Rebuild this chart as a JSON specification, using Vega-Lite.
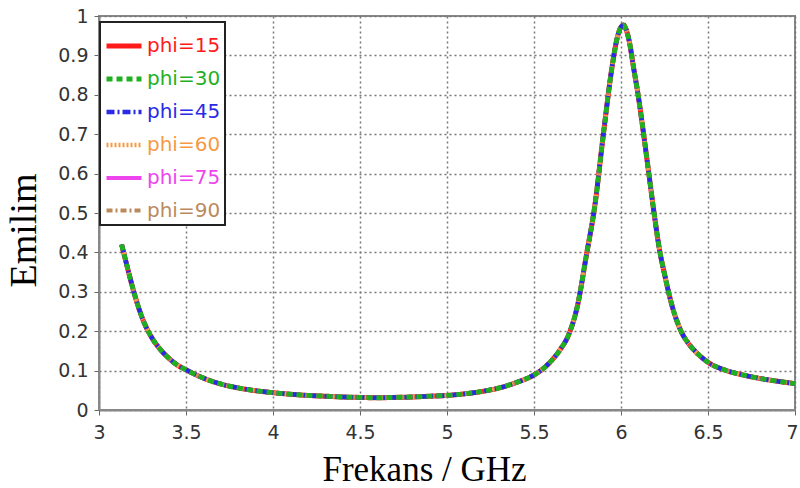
{
  "$schema": "https://vega.github.io/schema/vega-lite/v6.json",
  "autosize": {"type": "none"},
  "padding": {"left": 99, "top": 16, "right": 5, "bottom": 78},
  "width": 696,
  "height": 394,
  "background": "white",
  "config": {
    "view": {"stroke": "#888888", "strokeWidth": 2},
    "axis": {
      "labelFont": "DejaVu Sans",
      "labelFontSize": 19,
      "labelColor": "#333333",
      "domainColor": "#888888",
      "domainWidth": 2,
      "tickColor": "#666666",
      "tickSize": 5,
      "gridColor": "#777777",
      "gridDash": [2, 3],
      "gridWidth": 1.5,
      "titleFont": "Liberation Serif",
      "titleFontWeight": "normal",
      "titleColor": "#000000"
    }
  },
  "data": {
    "values": [
      {"f": 3.13, "p15": 0.42, "p30": 0.42, "p45": 0.42, "p60": 0.42, "p75": 0.42, "p90": 0.42},
      {"f": 3.15, "p15": 0.385, "p30": 0.385, "p45": 0.385, "p60": 0.385, "p75": 0.385, "p90": 0.385},
      {"f": 3.17, "p15": 0.35, "p30": 0.35, "p45": 0.35, "p60": 0.35, "p75": 0.35, "p90": 0.35},
      {"f": 3.2, "p15": 0.3, "p30": 0.3, "p45": 0.3, "p60": 0.3, "p75": 0.3, "p90": 0.3},
      {"f": 3.25, "p15": 0.232, "p30": 0.232, "p45": 0.232, "p60": 0.232, "p75": 0.232, "p90": 0.232},
      {"f": 3.3, "p15": 0.186, "p30": 0.186, "p45": 0.186, "p60": 0.186, "p75": 0.186, "p90": 0.186},
      {"f": 3.35, "p15": 0.155, "p30": 0.155, "p45": 0.155, "p60": 0.155, "p75": 0.155, "p90": 0.155},
      {"f": 3.4, "p15": 0.132, "p30": 0.132, "p45": 0.132, "p60": 0.132, "p75": 0.132, "p90": 0.132},
      {"f": 3.45, "p15": 0.114, "p30": 0.114, "p45": 0.114, "p60": 0.114, "p75": 0.114, "p90": 0.114},
      {"f": 3.5, "p15": 0.102, "p30": 0.102, "p45": 0.102, "p60": 0.102, "p75": 0.102, "p90": 0.102},
      {"f": 3.6, "p15": 0.081, "p30": 0.081, "p45": 0.081, "p60": 0.081, "p75": 0.081, "p90": 0.081},
      {"f": 3.7, "p15": 0.066, "p30": 0.066, "p45": 0.066, "p60": 0.066, "p75": 0.066, "p90": 0.066},
      {"f": 3.8, "p15": 0.056, "p30": 0.056, "p45": 0.056, "p60": 0.056, "p75": 0.056, "p90": 0.056},
      {"f": 3.9, "p15": 0.049, "p30": 0.049, "p45": 0.049, "p60": 0.049, "p75": 0.049, "p90": 0.049},
      {"f": 4.0, "p15": 0.044, "p30": 0.044, "p45": 0.044, "p60": 0.044, "p75": 0.044, "p90": 0.044},
      {"f": 4.1, "p15": 0.04, "p30": 0.04, "p45": 0.04, "p60": 0.04, "p75": 0.04, "p90": 0.04},
      {"f": 4.2, "p15": 0.037, "p30": 0.037, "p45": 0.037, "p60": 0.037, "p75": 0.037, "p90": 0.037},
      {"f": 4.3, "p15": 0.035, "p30": 0.035, "p45": 0.035, "p60": 0.035, "p75": 0.035, "p90": 0.035},
      {"f": 4.4, "p15": 0.033, "p30": 0.033, "p45": 0.033, "p60": 0.033, "p75": 0.033, "p90": 0.033},
      {"f": 4.5, "p15": 0.032, "p30": 0.032, "p45": 0.032, "p60": 0.032, "p75": 0.032, "p90": 0.032},
      {"f": 4.6, "p15": 0.031, "p30": 0.031, "p45": 0.031, "p60": 0.031, "p75": 0.031, "p90": 0.031},
      {"f": 4.7, "p15": 0.032, "p30": 0.032, "p45": 0.032, "p60": 0.032, "p75": 0.032, "p90": 0.032},
      {"f": 4.8, "p15": 0.033, "p30": 0.033, "p45": 0.033, "p60": 0.033, "p75": 0.033, "p90": 0.033},
      {"f": 4.9, "p15": 0.035, "p30": 0.035, "p45": 0.035, "p60": 0.035, "p75": 0.035, "p90": 0.035},
      {"f": 5.0, "p15": 0.037, "p30": 0.037, "p45": 0.037, "p60": 0.037, "p75": 0.037, "p90": 0.037},
      {"f": 5.1, "p15": 0.041, "p30": 0.041, "p45": 0.041, "p60": 0.041, "p75": 0.041, "p90": 0.041},
      {"f": 5.2, "p15": 0.047, "p30": 0.047, "p45": 0.047, "p60": 0.047, "p75": 0.047, "p90": 0.047},
      {"f": 5.3, "p15": 0.056, "p30": 0.056, "p45": 0.056, "p60": 0.056, "p75": 0.056, "p90": 0.056},
      {"f": 5.4, "p15": 0.07, "p30": 0.07, "p45": 0.07, "p60": 0.07, "p75": 0.07, "p90": 0.07},
      {"f": 5.5, "p15": 0.089, "p30": 0.089, "p45": 0.089, "p60": 0.089, "p75": 0.089, "p90": 0.089},
      {"f": 5.55, "p15": 0.104, "p30": 0.104, "p45": 0.104, "p60": 0.104, "p75": 0.104, "p90": 0.104},
      {"f": 5.6, "p15": 0.125, "p30": 0.125, "p45": 0.125, "p60": 0.125, "p75": 0.125, "p90": 0.125},
      {"f": 5.65, "p15": 0.153, "p30": 0.153, "p45": 0.153, "p60": 0.153, "p75": 0.153, "p90": 0.153},
      {"f": 5.7, "p15": 0.192, "p30": 0.192, "p45": 0.192, "p60": 0.192, "p75": 0.192, "p90": 0.192},
      {"f": 5.75, "p15": 0.265, "p30": 0.265, "p45": 0.265, "p60": 0.265, "p75": 0.265, "p90": 0.265},
      {"f": 5.8, "p15": 0.39, "p30": 0.39, "p45": 0.39, "p60": 0.39, "p75": 0.39, "p90": 0.39},
      {"f": 5.85, "p15": 0.52, "p30": 0.52, "p45": 0.52, "p60": 0.52, "p75": 0.52, "p90": 0.52},
      {"f": 5.9, "p15": 0.705, "p30": 0.705, "p45": 0.705, "p60": 0.705, "p75": 0.705, "p90": 0.705},
      {"f": 5.95, "p15": 0.875, "p30": 0.875, "p45": 0.875, "p60": 0.875, "p75": 0.875, "p90": 0.875},
      {"f": 5.98, "p15": 0.948, "p30": 0.948, "p45": 0.948, "p60": 0.948, "p75": 0.948, "p90": 0.948},
      {"f": 6.0, "p15": 0.972, "p30": 0.972, "p45": 0.972, "p60": 0.972, "p75": 0.972, "p90": 0.972},
      {"f": 6.015, "p15": 0.977, "p30": 0.977, "p45": 0.977, "p60": 0.977, "p75": 0.977, "p90": 0.977},
      {"f": 6.03, "p15": 0.965, "p30": 0.965, "p45": 0.965, "p60": 0.965, "p75": 0.965, "p90": 0.965},
      {"f": 6.05, "p15": 0.93, "p30": 0.93, "p45": 0.93, "p60": 0.93, "p75": 0.93, "p90": 0.93},
      {"f": 6.07, "p15": 0.875, "p30": 0.875, "p45": 0.875, "p60": 0.875, "p75": 0.875, "p90": 0.875},
      {"f": 6.1, "p15": 0.795, "p30": 0.795, "p45": 0.795, "p60": 0.795, "p75": 0.795, "p90": 0.795},
      {"f": 6.13, "p15": 0.7, "p30": 0.7, "p45": 0.7, "p60": 0.7, "p75": 0.7, "p90": 0.7},
      {"f": 6.16, "p15": 0.6, "p30": 0.6, "p45": 0.6, "p60": 0.6, "p75": 0.6, "p90": 0.6},
      {"f": 6.19, "p15": 0.5, "p30": 0.5, "p45": 0.5, "p60": 0.5, "p75": 0.5, "p90": 0.5},
      {"f": 6.22, "p15": 0.41, "p30": 0.41, "p45": 0.41, "p60": 0.41, "p75": 0.41, "p90": 0.41},
      {"f": 6.25, "p15": 0.345, "p30": 0.345, "p45": 0.345, "p60": 0.345, "p75": 0.345, "p90": 0.345},
      {"f": 6.29, "p15": 0.27, "p30": 0.27, "p45": 0.27, "p60": 0.27, "p75": 0.27, "p90": 0.27},
      {"f": 6.34, "p15": 0.205, "p30": 0.205, "p45": 0.205, "p60": 0.205, "p75": 0.205, "p90": 0.205},
      {"f": 6.4, "p15": 0.162, "p30": 0.162, "p45": 0.162, "p60": 0.162, "p75": 0.162, "p90": 0.162},
      {"f": 6.45, "p15": 0.139, "p30": 0.139, "p45": 0.139, "p60": 0.139, "p75": 0.139, "p90": 0.139},
      {"f": 6.5, "p15": 0.121, "p30": 0.121, "p45": 0.121, "p60": 0.121, "p75": 0.121, "p90": 0.121},
      {"f": 6.6, "p15": 0.101, "p30": 0.101, "p45": 0.101, "p60": 0.101, "p75": 0.101, "p90": 0.101},
      {"f": 6.7, "p15": 0.089, "p30": 0.089, "p45": 0.089, "p60": 0.089, "p75": 0.089, "p90": 0.089},
      {"f": 6.8, "p15": 0.08, "p30": 0.08, "p45": 0.08, "p60": 0.08, "p75": 0.08, "p90": 0.08},
      {"f": 6.9, "p15": 0.073, "p30": 0.073, "p45": 0.073, "p60": 0.073, "p75": 0.073, "p90": 0.073},
      {"f": 7.0, "p15": 0.067, "p30": 0.067, "p45": 0.067, "p60": 0.067, "p75": 0.067, "p90": 0.067}
    ]
  },
  "transform": [
    {"fold": ["p75", "p15", "p90", "p60", "p45", "p30"], "as": ["phi", "v"]}
  ],
  "mark": {"type": "line", "clip": true, "interpolate": "monotone"},
  "encoding": {
    "x": {
      "field": "f",
      "type": "quantitative",
      "scale": {"domain": [3, 7], "nice": false, "zero": false},
      "axis": {
        "values": [3, 3.5, 4, 4.5, 5, 5.5, 6, 6.5, 7],
        "format": "~g",
        "title": "Frekans / GHz",
        "titleFontSize": 35,
        "titleX": 325,
        "titleY": 70,
        "titleBaseline": "alphabetic",
        "titleAnchor": "middle",
        "labelPadding": 8,
        "labelFlush": false,
        "labelAlign": {"condition": {"test": "datum.value == 7", "value": "right"}, "value": "center"},
        "labelOffset": {"condition": {"test": "datum.value == 7", "value": 3}, "value": 0}
      }
    },
    "y": {
      "field": "v",
      "type": "quantitative",
      "scale": {"domain": [0, 1], "nice": false},
      "axis": {
        "values": [0, 0.1, 0.2, 0.3, 0.4, 0.5, 0.6, 0.7, 0.8, 0.9, 1],
        "format": "~g",
        "title": "Emilim",
        "titleFontSize": 38,
        "titleX": -64,
        "titleY": 214,
        "titleBaseline": "alphabetic",
        "titleAngle": -90,
        "titleAlign": "center",
        "labelPadding": 6,
        "labelFlush": false
      }
    },
    "color": {
      "field": "phi",
      "type": "nominal",
      "scale": {
        "domain": ["p15", "p30", "p45", "p60", "p75", "p90"],
        "range": ["#ff1a1a", "#1fb01f", "#2a2ae6", "#f59a45", "#ee44ee", "#bb8a5c"]
      },
      "legend": {
        "title": null,
        "orient": "none",
        "legendX": 1,
        "legendY": 6,
        "symbolType": "stroke",
        "symbolSize": 1225,
        "labelFont": "DejaVu Sans",
        "labelFontSize": 20,
        "labelOffset": 3,
        "labelExpr": "'phi=' + slice(datum.label, 1)",
        "rowPadding": 3,
        "padding": 4,
        "fillColor": "white",
        "strokeColor": "#222222",
        "encode": {
          "legend": {"update": {"strokeWidth": {"value": 2}}},
          "labels": {"update": {"fill": {"scale": "color", "field": "value"}}}
        }
      }
    },
    "strokeDash": {
      "field": "phi",
      "type": "nominal",
      "scale": {
        "domain": ["p15", "p30", "p45", "p60", "p75", "p90"],
        "range": [[1, 0], [6, 4], [8, 3, 2, 3], [2, 2], [1, 0], [6, 3, 2, 3]]
      }
    },
    "strokeWidth": {
      "field": "phi",
      "type": "nominal",
      "scale": {
        "domain": ["p15", "p30", "p45", "p60", "p75", "p90"],
        "range": [5, 4, 4, 4, 2, 4]
      }
    }
  }
}
